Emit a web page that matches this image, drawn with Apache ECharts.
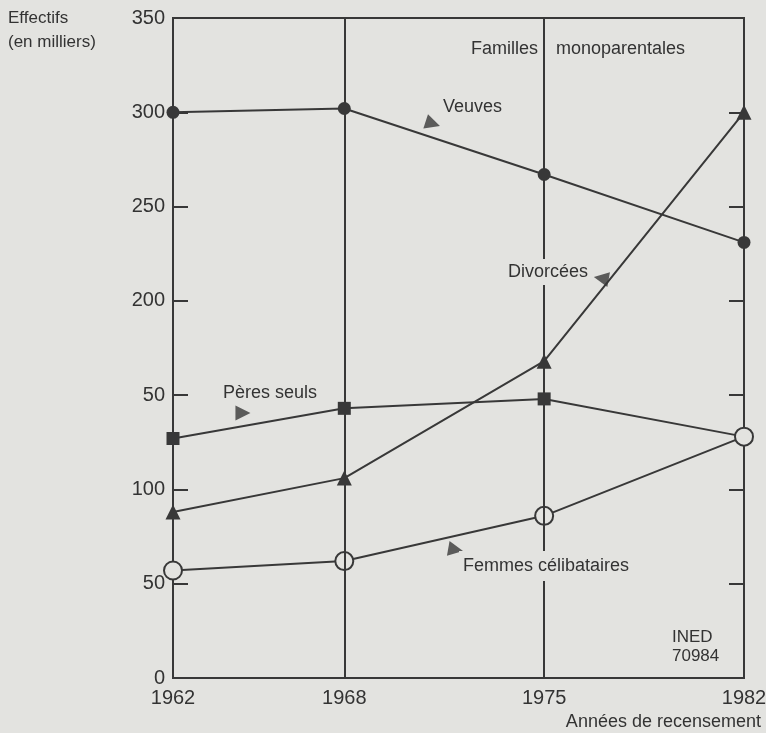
<!DOCTYPE html>
<html>
<head>
<meta charset="utf-8">
<script src="https://cdn.jsdelivr.net/npm/echarts@6/dist/echarts.min.js"></script>
<style>
  html, body { margin: 0; padding: 0; background: #e3e3e0; }
  #chart { width: 766px; height: 733px; }
</style>
</head>
<body>
<div id="chart"></div>
<script>
// années de recensement
var years = [1962, 1968, 1975, 1982];
// effectifs en milliers
var veuves = [300, 302, 267, 231];
var divorcees = [88, 106, 168, 300];
var peresSeuls = [127, 143, 148, 128];
var femmesCelib = [57, 62, 86, 128];
// libellés de l'axe vertical, tels qu'imprimés
var yTickLabels = ['0', '50', '100', '50', '200', '250', '300', '350'];
var refYears = [1968, 1975];
// petites flèches près des noms de courbes [année, effectif]
var arrowPoints = [[1971.1, 294], [1977.0, 212], [1964.45, 140.5], [1971.9, 68]];
var arrowRotate = [-108, 80, -90, -100];

var ink = '#383838';
var paper = '#e3e3e0';
var font = 'Liberation Sans, Arial, sans-serif';

function pairs(vals) {
    return vals.map(function (v, i) { return [years[i], v]; });
}

var chart = echarts.init(document.getElementById('chart'));
var option = {
    backgroundColor: paper,
    animation: false,
    grid: {
        left: 173, right: 22, top: 18, bottom: 55,
        outerBoundsMode: 'none',
        show: true, borderColor: ink, borderWidth: 2
    },
    xAxis: [{
        type: 'value',
        min: 1962,
        max: 1982,
        splitLine: { show: false },
        axisTick: { show: false },
        axisLine: { lineStyle: { color: ink, width: 2 } },
        axisLabel: {
            customValues: years,
            formatter: function (v) { return String(v); },
            fontSize: 20, color: '#333', margin: 10, fontFamily: font
        }
    }],
    yAxis: [{
        type: 'value',
        min: 0,
        max: 350,
        interval: 50,
        splitLine: { show: false },
        axisLine: { show: true, lineStyle: { color: ink, width: 2 } },
        axisTick: { show: true, inside: true, length: 15, lineStyle: { color: ink, width: 2 } },
        axisLabel: {
            formatter: function (v) { return yTickLabels[Math.round(v / 50)]; },
            fontSize: 20, color: '#333', margin: 8, fontFamily: font, padding: [0, 0, 6, 0]
        }
    }, {
        type: 'value',
        position: 'right',
        min: 0,
        max: 350,
        interval: 50,
        splitLine: { show: false },
        axisLine: { show: true, lineStyle: { color: ink, width: 2 } },
        axisTick: { show: true, inside: true, length: 15, lineStyle: { color: ink, width: 2 } },
        axisLabel: { show: false }
    }],
    series: [
        {
            name: 'repères', type: 'line', data: [], z: 1, silent: true,
            markLine: {
                symbol: 'none', silent: true, label: { show: false },
                lineStyle: { color: ink, width: 2, type: 'solid' },
                data: refYears.map(function (y) { return { xAxis: y }; })
            }
        },
        {
            name: 'Veuves', type: 'line', data: pairs(veuves), z: 3,
            symbol: 'circle', symbolSize: 13,
            itemStyle: { color: ink },
            lineStyle: { color: ink, width: 2 }
        },
        {
            name: 'Divorcées', type: 'line', data: pairs(divorcees), z: 3,
            symbol: 'triangle', symbolSize: 15,
            itemStyle: { color: ink },
            lineStyle: { color: ink, width: 2 }
        },
        {
            name: 'Pères seuls', type: 'line', z: 3,
            data: peresSeuls.map(function (v, i) {
                return i === years.length - 1 ? { value: [years[i], v], symbol: 'none' } : [years[i], v];
            }),
            symbol: 'rect', symbolSize: 13,
            itemStyle: { color: ink },
            lineStyle: { color: ink, width: 2 }
        },
        {
            name: 'Femmes célibataires', type: 'line', data: pairs(femmesCelib), z: 4,
            symbol: 'circle', symbolSize: 18,
            itemStyle: { color: paper, borderColor: ink, borderWidth: 2 },
            lineStyle: { color: ink, width: 2 }
        },
        {
            name: 'flèches', type: 'scatter', z: 4, silent: true,
            data: arrowPoints.map(function (p, i) { return { value: p, symbolRotate: arrowRotate[i] }; }),
            symbol: 'triangle', symbolSize: [15, 15],
            itemStyle: { color: ink }
        }
    ],
    graphic: [
        { type: 'text', left: 8, top: 10, z: 10, style: { text: 'Effectifs', fontSize: 17, fill: '#333', fontFamily: font } },
        { type: 'text', left: 8, top: 34, z: 10, style: { text: '(en milliers)', fontSize: 17, fill: '#333', fontFamily: font } },
        { type: 'text', left: 471, top: 40, z: 10, style: { text: 'Familles', fontSize: 18, fill: '#333', fontFamily: font } },
        { type: 'text', left: 556, top: 40, z: 10, style: { text: 'monoparentales', fontSize: 18, fill: '#333', fontFamily: font } },
        { type: 'text', left: 443, top: 98, z: 10, style: { text: 'Veuves', fontSize: 18, fill: '#333', fontFamily: font } },
        { type: 'text', left: 504, top: 259, z: 10, style: { text: 'Divorcées', fontSize: 18, fill: '#333', fontFamily: font, backgroundColor: paper, padding: [4, 4] } },
        { type: 'text', left: 223, top: 384, z: 10, style: { text: 'Pères seuls', fontSize: 18, fill: '#333', fontFamily: font } },
        { type: 'text', left: 459, top: 551, z: 10, style: { text: 'Femmes célibataires', fontSize: 18, fill: '#333', fontFamily: font, backgroundColor: paper, padding: [6, 4] } },
        { type: 'text', left: 672, top: 629, z: 10, style: { text: 'INED', fontSize: 17, fill: '#333', fontFamily: font } },
        { type: 'text', left: 672, top: 648, z: 10, style: { text: '70984', fontSize: 17, fill: '#333', fontFamily: font } },
        { type: 'text', right: 5, top: 713, z: 10, style: { text: 'Années de recensement', fontSize: 18, fill: '#333', fontFamily: font } }
    ]
};
chart.setOption(option);
</script>
</body>
</html>
